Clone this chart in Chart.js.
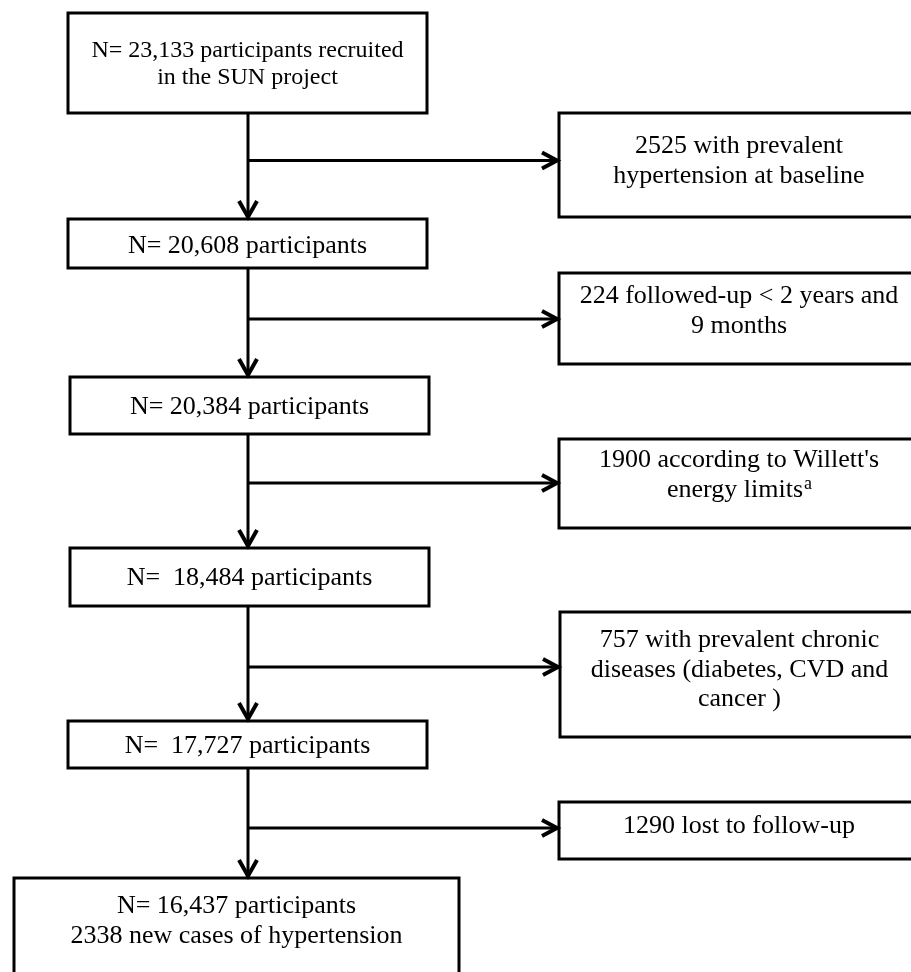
<!DOCTYPE html>
<html>
<head>
<meta charset="utf-8">
<script src="https://cdn.jsdelivr.net/npm/chart.js@4.4.1/dist/chart.umd.min.js"></script>
<style>
  body { margin: 0; background: #fff; }
  #wrap { width: 911px; height: 972px; position: relative; }
</style>
</head>
<body>
<div id="wrap"><canvas id="flow-chart"></canvas></div>
<script>
'use strict';

//DATA
//participants left after each step
let remaining = [23133, 20608, 20384, 18484, 17727, 16437];
//participants excluded between steps
let excluded = [2525, 224, 1900, 757, 1290];
let newCases = 2338;

function fmt(n){
  return n.toLocaleString('en-US');
}

//texts of the main boxes
let stepText = [
  [`N= ${fmt(remaining[0])} participants recruited`, 'in the SUN project'],
  [`N= ${fmt(remaining[1])} participants`],
  [`N= ${fmt(remaining[2])} participants`],
  [`N=  ${fmt(remaining[3])} participants`],
  [`N=  ${fmt(remaining[4])} participants`],
  [`N= ${fmt(remaining[5])} participants`, `${newCases} new cases of hypertension`]
];

//texts of the exclusion boxes
let excludedText = [
  [`${excluded[0]} with prevalent`, 'hypertension at baseline'],
  [`${excluded[1]} followed-up < 2 years and`, '9 months'],
  [`${excluded[2]} according to Willett's`, 'energy limits'],
  [`${excluded[3]} with prevalent chronic`, 'diseases (diabetes, CVD and', 'cancer )'],
  [`${excluded[4]} lost to follow-up`]
];
//footnote marks put after the last line
let excludedNotes = ['', '', 'a', '', ''];

//LAYOUT (in axis units, 0..911 across, 0..972 down)
let trunkX = 248;
let mainBoxes = [
  {x0: 68, x1: 427, y0: 13, y1: 113, base: 57, lh: 26.5, size: 24},
  {x0: 68, x1: 427, y0: 219, y1: 268, base: 253, lh: 27, size: 26},
  {x0: 70, x1: 429, y0: 377, y1: 434, base: 414, lh: 27, size: 26},
  {x0: 70, x1: 429, y0: 548, y1: 606, base: 585, lh: 27, size: 26},
  {x0: 68, x1: 427, y0: 721, y1: 768, base: 753, lh: 27, size: 26},
  {x0: 14, x1: 459, y0: 878, y1: 980, base: 913, lh: 30, size: 26}
];
let sideBoxes = [
  {x0: 559, x1: 916, y0: 113, y1: 217, base: 153, lh: 29.5, size: 26, arrowY: 160.5},
  {x0: 559, x1: 916, y0: 273, y1: 364, base: 303, lh: 29.5, size: 26, arrowY: 319},
  {x0: 559, x1: 916, y0: 439, y1: 528, base: 467, lh: 29.5, size: 26, arrowY: 483},
  {x0: 560, x1: 916, y0: 612, y1: 737, base: 647, lh: 29.5, size: 26, arrowY: 667},
  {x0: 559, x1: 916, y0: 802, y1: 859, base: 833, lh: 29.5, size: 26, arrowY: 828}
];
let sideTextShift = 4;

function serif(size){
  return size + 'px "Liberation Serif", "Times New Roman", serif';
}

//draws the flow diagram through the chart scales
const flowPlugin = {
  id: 'flow',
  afterDraw(chart){
    let ctx = chart.ctx;
    let sx = chart.scales.x;
    let sy = chart.scales.y;
    let px = v => sx.getPixelForValue(v);
    let py = v => sy.getPixelForValue(v);

    ctx.save();
    ctx.strokeStyle = '#000';
    ctx.fillStyle = '#000';
    ctx.lineCap = 'butt';

    function box(b){
      ctx.lineWidth = 3;
      ctx.strokeRect(px(b.x0), py(b.y0), px(b.x1) - px(b.x0), py(b.y1) - py(b.y0));
    }

    function lines(b, texts, note, shift){
      let cx = (px(b.x0) + px(Math.min(b.x1, 911))) / 2 + shift;
      let fontMain = serif(b.size);
      let fontSup = serif(Math.round(b.size * 0.68));
      ctx.font = fontMain;
      ctx.textBaseline = 'alphabetic';
      ctx.textAlign = 'left';
      texts.forEach(function(t, i){
        let y = py(b.base + i * b.lh);
        let w = ctx.measureText(t).width;
        let ws = 0;
        if (note && i === texts.length - 1){
          ctx.font = fontSup;
          ws = ctx.measureText(note).width;
          ctx.font = fontMain;
        }
        let left = cx - (w + ws) / 2;
        ctx.fillText(t, left, y);
        if (ws){
          ctx.font = fontSup;
          ctx.fillText(note, left + w + 1, y - 8);
          ctx.font = fontMain;
        }
      });
    }

    function chevronDown(x, y){
      ctx.lineWidth = 4;
      ctx.beginPath();
      ctx.moveTo(x - 9, y - 16);
      ctx.lineTo(x, y);
      ctx.lineTo(x + 9, y - 16);
      ctx.stroke();
    }

    function chevronRight(x, y){
      ctx.lineWidth = 4;
      ctx.beginPath();
      ctx.moveTo(x - 15, y - 8);
      ctx.lineTo(x, y);
      ctx.lineTo(x - 15, y + 8);
      ctx.stroke();
    }

    //main boxes
    for (let i = 0; i < mainBoxes.length; i++){
      box(mainBoxes[i]);
      lines(mainBoxes[i], stepText[i], '', 0);
    }

    //trunk + arrows down
    for (let i = 0; i < mainBoxes.length - 1; i++){
      let x = px(trunkX);
      let top = py(mainBoxes[i].y1);
      let tip = py(mainBoxes[i + 1].y0) - 2;
      ctx.lineWidth = 3;
      ctx.beginPath();
      ctx.moveTo(x, top);
      ctx.lineTo(x, tip);
      ctx.stroke();
      chevronDown(x, tip);
    }

    //exclusion boxes + side arrows
    for (let i = 0; i < sideBoxes.length; i++){
      let b = sideBoxes[i];
      box(b);
      lines(b, excludedText[i], excludedNotes[i], sideTextShift);
      let y = py(b.arrowY);
      let tipX = px(b.x0) - 2;
      ctx.lineWidth = 3;
      ctx.beginPath();
      ctx.moveTo(px(trunkX), y);
      ctx.lineTo(tipX, y);
      ctx.stroke();
      chevronRight(tipX, y);
    }
    ctx.restore();
  }
};

let ctxChart = document.getElementById('flow-chart').getContext('2d');

let chartData = {
  type: 'scatter',
  data: {
    datasets: [{
      label: 'steps',
      data: [],
      pointRadius: 0
    }]
  },
  options: {
    responsive: true,
    maintainAspectRatio: false,
    animation: false,
    devicePixelRatio: 1,
    layout: { padding: 0 },
    plugins: {
      legend: { display: false },
      tooltip: { enabled: false }
    },
    scales: {
      x: { type: 'linear', min: 0, max: 911, display: false },
      y: { type: 'linear', min: 0, max: 972, reverse: true, display: false }
    }
  },
  plugins: [flowPlugin]
};

new Chart(ctxChart, chartData);
</script>
</body>
</html>
